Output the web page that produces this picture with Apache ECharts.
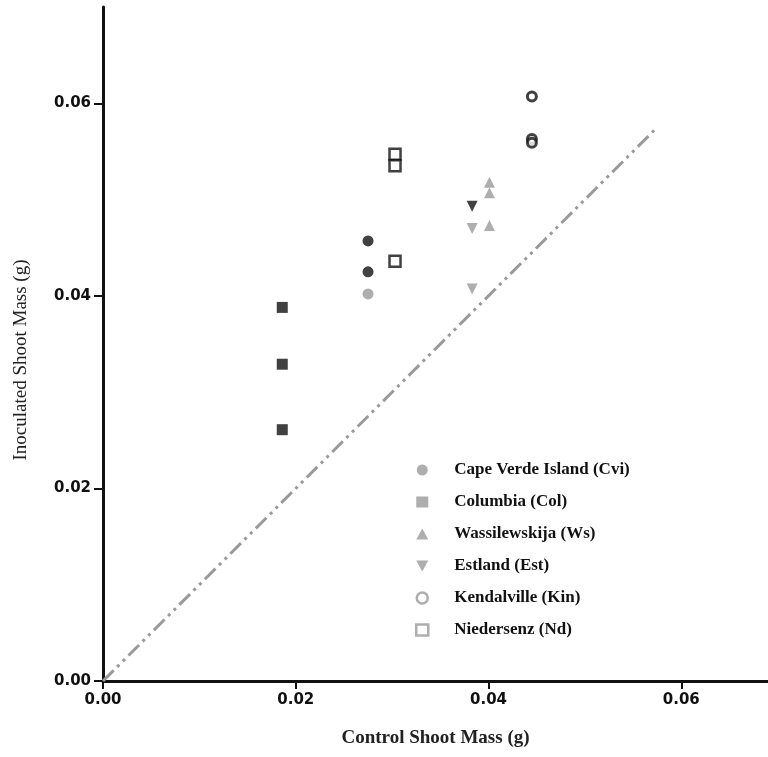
<!DOCTYPE html>
<html>
<head>
<meta charset="utf-8">
<script src="https://cdn.jsdelivr.net/npm/echarts@6/dist/echarts.min.js"></script>
<style>
  html, body { margin: 0; padding: 0; background: #fff; }
  #chart { width: 768px; height: 757px; }
</style>
</head>
<body>
<div id="chart"></div>
<script>
// tick values
const xTicks = [0, 0.02, 0.04, 0.06]
const yTicks = [0, 0.02, 0.04, 0.06]

// series names (legend order)
const seriesNames = ['Cape Verde Island (Cvi)', 'Columbia (Col)', 'Wassilewskija (Ws)', 'Estland (Est)', 'Kendalville (Kin)', 'Niedersenz (Nd)']

// [control, inoculated] shoot mass (g)
const cviPoints = [[0.0275, 0.0457], [0.0275, 0.0425], [0.0275, 0.0402]]
const colPoints = [[0.0186, 0.0388], [0.0186, 0.0329], [0.0186, 0.0261]]
const wsPoints = [[0.0401, 0.0518], [0.0401, 0.0507], [0.0401, 0.0473]]
const estPoints = [[0.0383, 0.0493], [0.0383, 0.0470], [0.0383, 0.0407]]
const kinPoints = [[0.0445, 0.0607], [0.0445, 0.0563], [0.0445, 0.0559]]
const ndPoints = [[0.0303, 0.0547], [0.0303, 0.0535], [0.0303, 0.0436]]

// y = x reference line
const identityLine = [[0, 0], [0.0575, 0.0575]]

// which points are drawn dark in the figure
const cviDark = [true, true, false]
const colDark = [true, true, true]
const wsDark = [false, false, false]
const estDark = [true, false, false]

const GRAY = '#9a9a9a'
const DARK = '#111'
const DOWN_TRI = 'path://M0,0 L10,0 L5,9 Z'

function filled (points, dark) {
  return points.map(function (p, i) {
    return dark[i] ? { value: p, itemStyle: { color: DARK } } : { value: p }
  })
}

const chart = echarts.init(document.getElementById('chart'))

const option = {
  backgroundColor: '#fff',
  animation: false,
  grid: {
    left: 103,
    right: 0,
    top: 7,
    bottom: 76
  },
  legend: {
    orient: 'vertical',
    left: 410,
    top: 456,
    itemWidth: 12,
    itemHeight: 11,
    itemGap: 14,
    selectedMode: false,
    textStyle: {
      fontFamily: 'Liberation Serif',
      fontWeight: 'bold',
      fontSize: 17,
      color: '#111',
      lineHeight: 18,
      padding: [0, 0, 0, 21]
    },
    data: [
      { name: seriesNames[0], icon: 'circle' },
      { name: seriesNames[1], icon: 'rect' },
      { name: seriesNames[2], icon: 'triangle' },
      { name: seriesNames[3], icon: DOWN_TRI },
      { name: seriesNames[4], icon: 'circle', itemStyle: { color: '#fff', borderColor: GRAY, borderWidth: 2.5 } },
      { name: seriesNames[5], icon: 'rect', itemStyle: { color: '#fff', borderColor: GRAY, borderWidth: 2.5 } }
    ]
  },
  xAxis: {
    type: 'value',
    min: 0,
    max: 0.069,
    interval: 0.02,
    name: 'Control Shoot Mass (g)',
    nameLocation: 'middle',
    nameGap: 48,
    nameTextStyle: {
      fontFamily: 'Liberation Serif',
      fontWeight: 'bold',
      fontSize: 19,
      color: '#222'
    },
    axisLine: { lineStyle: { color: '#111', width: 3 } },
    axisTick: { show: true, length: 8, lineStyle: { color: '#111', width: 2 }, customValues: xTicks },
    axisLabel: {
      customValues: xTicks,
      margin: 12,
      formatter: function (v) { return v.toFixed(2) },
      fontFamily: 'DejaVu Sans',
      fontWeight: 'bold',
      fontSize: 15,
      color: '#111'
    },
    splitLine: { show: false }
  },
  yAxis: {
    type: 'value',
    min: 0,
    max: 0.07,
    interval: 0.02,
    axisLine: { lineStyle: { color: '#111', width: 3 } },
    axisTick: { show: true, length: 9, lineStyle: { color: '#111', width: 2 }, customValues: yTicks },
    axisLabel: {
      customValues: yTicks,
      margin: 12,
      formatter: function (v) { return v.toFixed(2) },
      fontFamily: 'DejaVu Sans',
      fontWeight: 'bold',
      fontSize: 15,
      color: '#111'
    },
    splitLine: { show: false }
  },
  graphic: [
    {
      type: 'text',
      x: 21,
      y: 360,
      rotation: Math.PI / 2,
      style: {
        text: 'Inoculated Shoot Mass (g)',
        fontFamily: 'Liberation Serif',
        fontSize: 19,
        fill: '#222',
        align: 'center',
        verticalAlign: 'middle'
      }
    }
  ],
  series: [
    {
      type: 'line',
      data: identityLine,
      showSymbol: false,
      silent: true,
      z: 1,
      lineStyle: { color: GRAY, width: 3, type: [15, 5, 3, 5, 3, 5] }
    },
    {
      name: seriesNames[0],
      type: 'scatter',
      symbol: 'circle',
      symbolSize: 11,
      itemStyle: { color: GRAY },
      data: filled(cviPoints, cviDark)
    },
    {
      name: seriesNames[1],
      type: 'scatter',
      symbol: 'rect',
      symbolSize: 11,
      itemStyle: { color: GRAY },
      data: filled(colPoints, colDark)
    },
    {
      name: seriesNames[2],
      type: 'scatter',
      symbol: 'triangle',
      symbolSize: 11,
      itemStyle: { color: GRAY },
      data: filled(wsPoints, wsDark)
    },
    {
      name: seriesNames[3],
      type: 'scatter',
      symbol: DOWN_TRI,
      symbolSize: 11,
      itemStyle: { color: GRAY },
      data: filled(estPoints, estDark)
    },
    {
      name: seriesNames[4],
      type: 'scatter',
      symbol: 'circle',
      symbolSize: 9,
      itemStyle: { color: '#fff', borderColor: DARK, borderWidth: 3 },
      data: kinPoints
    },
    {
      name: seriesNames[5],
      type: 'scatter',
      symbol: 'rect',
      symbolSize: 11,
      itemStyle: { color: '#fff', borderColor: DARK, borderWidth: 2.5 },
      data: ndPoints
    }
  ]
}

chart.setOption(option)
window.addEventListener('resize', function () { chart.resize() })
</script>
</body>
</html>
